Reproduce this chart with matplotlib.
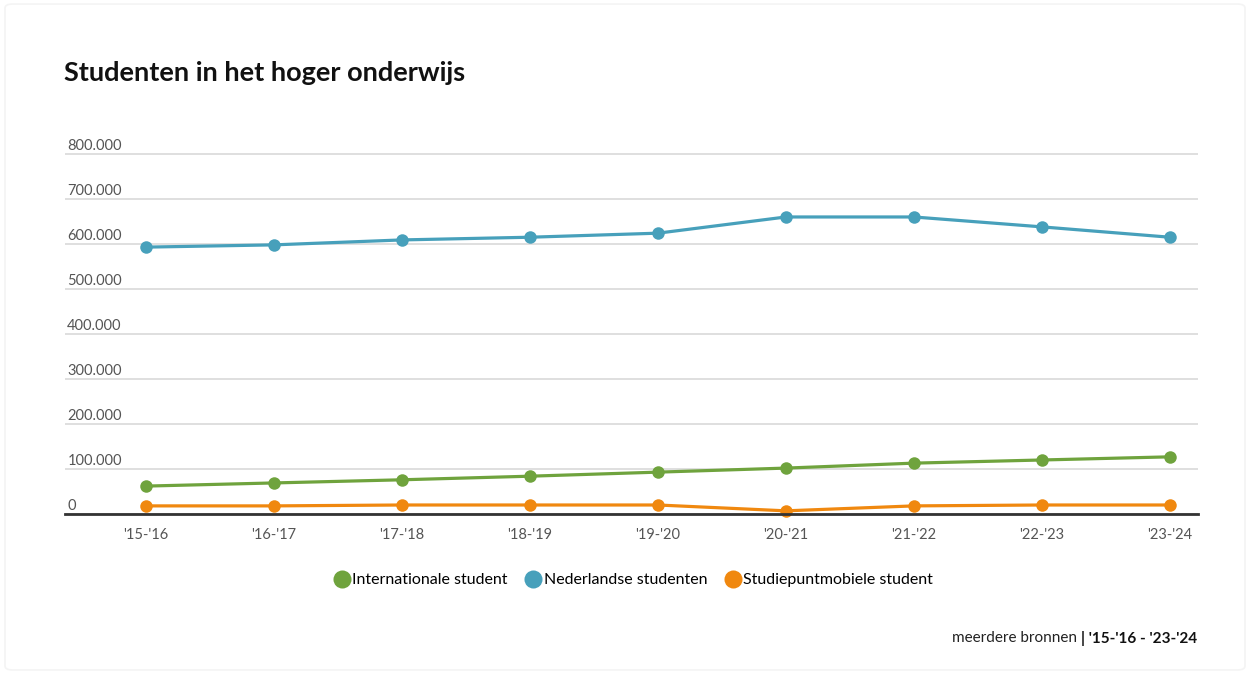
import numpy as np
import matplotlib
matplotlib.use("Agg")
import matplotlib.pyplot as plt
from matplotlib.patches import FancyBboxPatch

plt.rcParams["font.family"] = ["Lato", "DejaVu Sans"]

# Data
years = ["'15-'16", "'16-'17", "'17-'18", "'18-'19", "'19-'20",
         "'20-'21", "'21-'22", "'22-'23", "'23-'24"]
internationaal = [62000, 69000, 76000, 84000, 93000, 102000, 113000, 120000, 127000]
nederlands = [593000, 598000, 609000, 615000, 624000, 660000, 660000, 638000, 615000]
studiepunt = [18000, 18000, 20000, 20000, 20000, 7000, 18000, 20000, 20000]
series_names = ["Internationale student", "Nederlandse studenten", "Studiepuntmobiele student"]
yticks = [0, 100000, 200000, 300000, 400000, 500000, 600000, 700000, 800000]

colors = ["#6fa33d", "#47a0bb", "#f0880f"]

fig = plt.figure(figsize=(12.5, 6.74), dpi=100)
fig.patch.set_facecolor("white")
# faint card outline
fig.patches.append(FancyBboxPatch((0.004, 0.006), 0.992, 0.988,
                                  boxstyle="round,pad=0,rounding_size=0.006",
                                  transform=fig.transFigure, fill=False,
                                  edgecolor="#f4f4f4", linewidth=1.2))

ax = fig.add_axes([0.052, 0.2374, 0.9064, 0.549])
x = np.arange(len(years))
for vals, c in zip([internationaal, nederlands, studiepunt], colors):
    ax.plot(x, vals, color=c, linewidth=2.3, marker="o", markersize=9,
            markeredgewidth=0, zorder=3, clip_on=False)

ax.set_xlim(-0.633, 8.22)
ax.set_ylim(0, 822222)
ax.set_yticks(yticks)
ax.set_yticklabels([])
ax.tick_params(axis="y", length=0)
ax.grid(axis="y", color="#d9d9d9", linewidth=1.2)
ax.set_axisbelow(True)
for s in ["top", "right", "left"]:
    ax.spines[s].set_visible(False)
ax.spines["bottom"].set_color("#333333")
ax.spines["bottom"].set_linewidth(2)
ax.spines["bottom"].set_zorder(4)

for v in yticks:
    lab = "0" if v == 0 else f"{v:,}".replace(",", ".")
    ax.text(0.002, v + 3000, lab, transform=ax.get_yaxis_transform(),
            ha="left", va="bottom", fontsize=10.5, color="#555555")

ax.set_xticks(x)
ax.set_xticklabels(years, fontsize=10.5, color="#555555")
ax.tick_params(axis="x", length=0, pad=10)

fig.text(0.0515, 0.892, "Studenten in het hoger onderwijs", fontsize=19.5,
         fontweight="bold", color="#111111", ha="left", va="center")

handles = [plt.Line2D([], [], linestyle="none", marker="o", markersize=13,
                      markeredgewidth=0, color=c) for c in colors]
fig.legend(handles, series_names, loc="center", bbox_to_anchor=(0.506, 0.139),
           ncol=3, frameon=False, fontsize=11.5, handletextpad=0.05,
           columnspacing=1.0, handlelength=1.2)

fig.text(0.958, 0.053, "meerdere bronnen ", fontsize=11, color="#222222",
         ha="right", va="center")
t = fig.text(0.958, 0.053, "| '15-'16 - '23-'24", fontsize=11, fontweight="bold",
             color="#111111", ha="right", va="center")
fig.canvas.draw()
bb = t.get_window_extent()
fig.texts[-2].set_x(bb.x0 / fig.bbox.width)

fig.savefig("out.png", dpi=100, facecolor="white")
